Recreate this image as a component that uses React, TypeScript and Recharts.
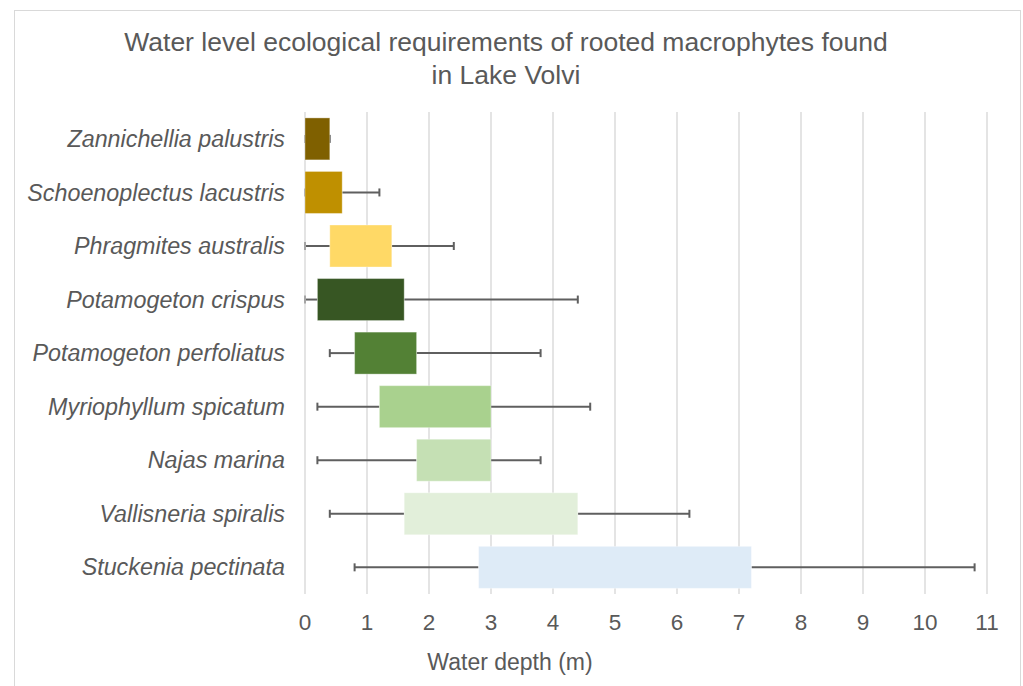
import React from "react";
import { BarChart, Bar, XAxis, YAxis, CartesianGrid, Cell, Label } from "recharts";

const categories = [
  "Zannichellia palustris",
  "Schoenoplectus lacustris",
  "Phragmites australis",
  "Potamogeton crispus",
  "Potamogeton perfoliatus",
  "Myriophyllum spicatum",
  "Najas marina",
  "Vallisneria spiralis",
  "Stuckenia pectinata",
];
const barStart = [0, 0, 0.4, 0.2, 0.8, 1.2, 1.8, 1.6, 2.8];
const barEnd = [0.4, 0.6, 1.4, 1.6, 1.8, 3.0, 3.0, 4.4, 7.2];
const whiskerMin = [0, 0, 0, 0, 0.4, 0.2, 0.2, 0.4, 0.8];
const whiskerMax = [0.4, 1.2, 2.4, 4.4, 3.8, 4.6, 3.8, 6.2, 10.8];
const barColors = [
  "#7F6000",
  "#BF9000",
  "#FFD966",
  "#375623",
  "#538135",
  "#A9D18E",
  "#C5E0B4",
  "#E2EFDA",
  "#DEEBF7",
];
const xTicks = [0, 1, 2, 3, 4, 5, 6, 7, 8, 9, 10, 11];

const data = categories.map((name, i) => ({
  name,
  range: [barStart[i], barEnd[i]],
  start: barStart[i],
  end: barEnd[i],
  min: whiskerMin[i],
  max: whiskerMax[i],
}));

const TEXT = "#595959";
const FONT = "'Liberation Sans', Arial, sans-serif";

const RangeShape = (props: any) => {
  const { x, y, width, height, payload, fill } = props;
  const unit = width / (payload.end - payload.start);
  const minX = x + (payload.min - payload.start) * unit;
  const maxX = x + (payload.max - payload.start) * unit;
  const cy = y + height / 2;
  const cap = 4;
  const wc = "#5f5f5f";
  return (
    <g>
      <line x1={minX} x2={x} y1={cy} y2={cy} stroke={wc} strokeWidth={2} />
      <line x1={x + width} x2={maxX} y1={cy} y2={cy} stroke={wc} strokeWidth={2} />
      <line x1={minX} x2={minX} y1={cy - cap} y2={cy + cap} stroke={payload.min === 0 ? "#a6a6a6" : wc} strokeWidth={2} />
      <line x1={maxX} x2={maxX} y1={cy - cap} y2={cy + cap} stroke={wc} strokeWidth={2} />
      <rect x={x} y={y} width={width} height={height} fill={fill} stroke="#ffffff" strokeOpacity={0.35} strokeWidth={1} />
    </g>
  );
};

export default function App() {
  return (
    <div
      style={{
        position: "absolute",
        left: 14,
        top: 10,
        width: 1005,
        height: 690,
        border: "1px solid #d9d9d9",
        background: "#fff",
        fontFamily: FONT,
      }}
    >
      <div
        style={{
          position: "absolute",
          left: 0,
          top: 15,
          width: 982,
          textAlign: "center",
          fontSize: 26.5,
          lineHeight: "33px",
          color: TEXT,
          fontFamily: FONT,
        }}
      >
        Water level ecological requirements of rooted macrophytes found
        <br />
        in Lake Volvi
      </div>
      <BarChart
        width={1005}
        height={675}
        data={data}
        layout="vertical"
        margin={{ top: 101, right: 33, left: 0, bottom: 12 }}
        barCategoryGap="11%"
      >
        <CartesianGrid horizontal={false} vertical={true} stroke="#d9d9d9" strokeWidth={1.4} />
        <XAxis
          type="number"
          domain={[0, 11]}
          ticks={xTicks}
          axisLine={false}
          tickLine={false}
          tickMargin={14}
          height={80}
          tick={{ fill: TEXT, fontSize: 22.5, fontFamily: FONT }}
        >
          <Label
            value="Water depth (m)"
            position="insideBottom"
            offset={4}
            dx={-136}
            style={{ fill: TEXT, fontSize: 23, fontFamily: FONT }}
          />
        </XAxis>
        <YAxis
          type="category"
          dataKey="name"
          width={290}
          axisLine={false}
          tickLine={false}
          tickMargin={14}
          interval={0}
          tick={{ fill: TEXT, fontSize: 23.3, fontStyle: "italic", fontFamily: FONT }}
        />
        <Bar dataKey="range" isAnimationActive={false} shape={<RangeShape />}>
          {data.map((d, i) => (
            <Cell key={d.name} fill={barColors[i]} />
          ))}
        </Bar>
      </BarChart>
    </div>
  );
}
